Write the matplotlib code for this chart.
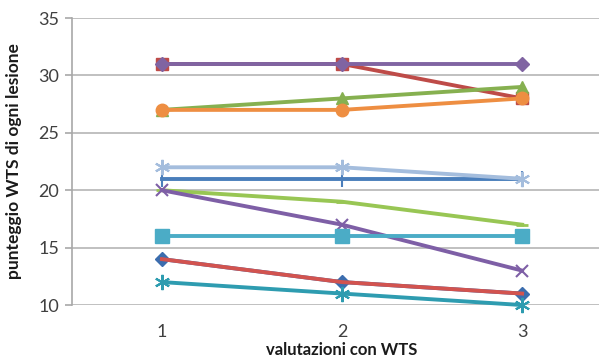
import matplotlib
matplotlib.use("Agg")
import matplotlib.pyplot as plt

# WTS score of each lesion across three assessments
valutazioni = [1, 2, 3]
serie = {
    "L1": [31, 31, 28],   # red, squares
    "L2": [31, 31, 31],   # purple, diamonds
    "L3": [27, 28, 29],   # green, triangles
    "L4": [27, 27, 28],   # orange, circles
    "L5": [21, 21, 21],   # blue, plus
    "L6": [22, 22, 21],   # light blue, star
    "L7": [20, 19, 17],   # light green, dash
    "L8": [20, 17, 13],   # purple, x
    "L9": [16, 16, 16],   # cyan, squares
    "L10": [14, 12, 11],  # blue diamonds
    "L11": [14, 12, 11],  # red line
    "L12": [12, 11, 10],  # teal, star
}
y_ticks = [10, 15, 20, 25, 30, 35]

styles = {
    "L1": dict(color="#BE4B48", marker="s", ms=9),
    "L2": dict(color="#8064A2", marker="D", ms=7),
    "L3": dict(color="#86B050", marker="^", ms=9),
    "L4": dict(color="#EE8E42", marker="o", ms=9),
    "L5": dict(color="#4A7EBB", marker="|", ms=11, mew=1.5),
    "L6": dict(color="#A4BDDD", marker=(6, 2, 0), ms=11, mew=1.5),
    "L7": dict(color="#98C654", marker="_", ms=8, mew=2),
    "L8": dict(color="#7E5FA6", marker="x", ms=9, mew=1.5),
    "L9": dict(color="#4BACC6", marker="s", ms=10),
    "L10": dict(color="#3B6DAE", marker="D", ms=7),
    "L11": dict(color="#D2534F", marker=None, ms=0),
    "L12": dict(color="#2E9CB0", marker=(6, 2, 0), ms=11, mew=1.5),
}

plt.rcParams["font.family"] = ["Lato", "DejaVu Sans"]

fig = plt.figure(figsize=(5.99, 3.61), dpi=100)
ax = fig.add_axes([0.120, 0.155, 0.902, 0.795])

for name, vals in serie.items():
    st = styles[name]
    ax.plot(valutazioni, vals, color=st["color"], lw=2.8,
            marker=st["marker"], markersize=st["ms"],
            markeredgewidth=st.get("mew", 1.0),
            markerfacecolor=st["color"], markeredgecolor=st["color"],
            clip_on=False, zorder=3)

ax.set_xlim(0.5, 3.5)
ax.set_ylim(10, 35)
ax.set_xticks(valutazioni)
ax.set_yticks(y_ticks)
ax.yaxis.grid(True, color="#B5B5B5", lw=1.2)
ax.set_axisbelow(True)

for side in ("top", "right", "bottom"):
    ax.spines[side].set_visible(False)
ax.spines["left"].set_color("#A8A8A8")
ax.spines["left"].set_linewidth(1.2)

ax.tick_params(axis="y", length=5, width=1.2, color="#A8A8A8",
               labelsize=13, labelcolor="#404040", pad=4)
ax.tick_params(axis="x", length=0, labelsize=13, labelcolor="#404040", pad=14)

ax.set_ylabel("punteggio WTS di ogni lesione", fontsize=12.5,
              fontweight="bold", color="#1A1A1A")
ax.yaxis.set_label_coords(-0.092, 0.5)
ax.set_xlabel("valutazioni con WTS", fontsize=12, fontweight="bold",
              color="#1A1A1A")
ax.xaxis.set_label_coords(0.5, -0.128)
ax.xaxis.label.set_verticalalignment("top")

fig.savefig("out.png", dpi=100, facecolor="white")
